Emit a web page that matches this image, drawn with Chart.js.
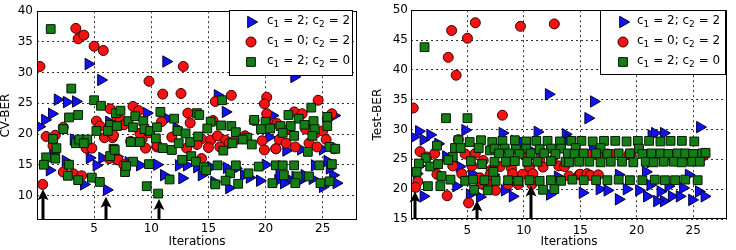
<!DOCTYPE html>
<html><head><meta charset="utf-8">
<script src="https://cdn.jsdelivr.net/npm/chart.js@4/dist/chart.umd.min.js"></script>
<style>
html,body{margin:0;padding:0;background:#fff;width:736px;height:250px;overflow:hidden}
.c{position:absolute;top:0;width:368px;height:250px}
</style></head><body>
<div class="c" style="left:0"><canvas id="a" width="368" height="250"></canvas></div>
<div class="c" style="left:368px"><canvas id="b" width="368" height="250"></canvas></div>
<script>
// ---------- data ----------
const xTicks = [5, 10, 15, 20, 25];
const cvTicks = [10, 15, 20, 25, 30, 35, 40];
const testTicks = [15, 20, 25, 30, 35, 40, 45, 50];
const legendC1 = [2, 0, 2];
const legendC2 = [2, 2, 0];
const xTitle = 'Iterations';
const cvTitle = 'CV-BER';
const testTitle = 'Test-BER';

// CV-BER, c1=2;c2=2 (blue triangles)
const cvTri = [[4.5,31.4],[5.6,28.8],[1.8,25.6],[2.6,25.2],[3.4,25.3],[1.3,23.3],[0.7,22.3],[0.2,21.2],[3.2,19.1],[2.5,15.6],[1.1,14.1],[4.6,16.1],[5.7,16.1],[5.2,14.9],[4.1,11.8],[6.1,10.9],[6.3,22.0],[1.4,16.8],
[11.3,31.8],[9.6,23.4],[12.2,21.0],[11.4,22.5],[8.0,15.4],[9.0,14.9],[10.5,15.0],[11.1,13.3],[12.7,12.8],[12.4,14.9],[13.1,14.9],[7.0,16.3],
[15.8,26.3],[16.5,23.6],[20.3,19.5],[20.6,23.0],[14.0,14.6],[15.2,14.6],[16.6,14.5],[17.4,14.4],[18.1,13.3],[18.6,12.9],[19.5,12.4],[20.0,15.0],[21.1,12.5],[15.5,12.2],[16.8,11.2],[14.4,13.3],
[22.5,29.3],[26.0,23.0],[23.1,17.5],[21.8,17.3],[25.0,17.5],[25.4,15.6],[25.9,13.3],[21.2,13.3],[22.0,12.7],[22.6,13.0],[23.0,12.4],[23.4,13.3],[24.1,12.7],[26.2,12.0],[25.0,11.4],[21.6,12.0],[24.3,14.9],[25.6,14.4]];
// CV-BER, c1=0;c2=2 (red circles)
const cvCirc = [[0.26,31.0],[3.4,37.2],[3.6,35.5],[4.1,36.1],[5.0,34.3],[5.8,33.6],[0.5,11.8],[0.8,19.6],[1.6,19.8],[1.4,18.1],[2.3,21.1],[2.3,13.8],[3.2,13.5],[3.9,13.2],[6.4,24.1],[5.2,22.1],[5.5,21.3],[5.9,19.4],[6.6,19.4],[6.7,19.8],[6.3,16.0],[7.0,15.8],[4.3,17.7],[4.8,17.7],[7.0,22.5],
[12.8,31.0],[9.8,28.6],[11.0,26.5],[12.6,26.6],[8.4,24.5],[8.9,23.8],[13.2,23.4],[10.9,22.0],[13.4,21.8],[7.3,22.3],[7.6,21.5],[8.2,18.8],[9.2,19.2],[9.0,20.1],[9.5,17.7],[10.5,17.9],[10.5,18.2],[11.8,19.5],[13.1,17.7],[14.1,19.2],[7.1,15.8],[7.6,15.0],[9.8,20.2],[14.4,16.0],
[17.0,26.3],[15.6,25.3],[20.1,26.0],[19.9,24.9],[20.1,23.3],[15.4,22.2],[19.0,22.2],[20.7,21.7],[14.4,19.2],[15.2,19.0],[15.8,19.7],[16.5,19.0],[17.3,19.0],[18.2,19.7],[15.0,17.8],[16.0,17.9],[16.8,18.5],[19.7,18.9],[19.9,17.4],[20.9,17.6],[14.0,18.3],
[24.6,25.5],[25.8,23.3],[22.5,23.6],[23.2,23.3],[25.4,22.5],[21.0,21.7],[22.0,20.8],[23.5,20.8],[24.4,20.2],[25.0,20.5],[21.2,19.1],[21.8,18.5],[22.6,17.9],[23.8,18.5],[24.5,17.9],[25.3,19.1],[26.0,17.6],[20.9,17.6]];
// CV-BER, c1=2;c2=0 (green squares)
const cvSq = [[1.2,37.1],[3.0,27.4],[5.0,25.5],[5.6,24.6],[3.6,23.1],[2.8,22.7],[2.3,20.8],[1.4,19.2],[1.7,17.7],[3.4,18.5],[3.7,19.1],[4.4,19.1],[4.1,18.5],[0.8,16.2],[1.6,16.0],[0.6,15.0],[2.8,15.0],[2.7,13.2],[3.6,12.5],[4.8,12.9],[5.5,12.2],[5.2,20.5],[6.4,21.5],[6.2,20.5],[7.0,21.3],[6.9,23.4],[6.7,17.6],[6.4,16.4],
[7.3,23.8],[8.0,22.1],[8.6,22.9],[9.3,22.1],[8.4,21.1],[9.4,20.8],[9.9,20.5],[10.5,21.1],[10.8,23.6],[12.0,22.5],[12.3,20.5],[13.0,20.1],[14.0,23.4],[8.2,18.7],[9.0,18.7],[10.4,19.3],[11.0,17.7],[11.8,17.4],[12.4,18.5],[13.4,18.7],[14.1,19.6],[6.8,17.4],[8.4,15.5],[9.8,15.1],[7.7,13.8],[7.8,14.8],[12.7,15.8],[13.5,16.4],[13.9,15.5],[11.6,12.6],[9.6,11.5],[10.6,10.3],
[16.2,25.5],[14.2,23.1],[15.2,22.0],[16.1,21.4],[17.0,21.3],[19.0,22.3],[20.0,22.0],[14.9,20.9],[17.4,20.3],[18.4,19.4],[19.6,20.8],[20.4,20.9],[16.3,17.3],[18.8,18.3],[18.0,19.1],[17.1,18.5],[14.6,14.6],[15.8,14.9],[16.9,13.6],[17.4,14.9],[18.5,13.6],[19.4,14.7],[15.6,11.8],[16.5,12.4],[17.6,11.9],[20.6,12.0],[20.9,14.9],[14.8,14.1],
[24.0,24.3],[22.0,23.1],[25.4,22.8],[22.9,22.5],[24.2,22.1],[21.3,21.3],[22.2,21.3],[23.4,21.5],[24.3,20.8],[25.4,21.3],[21.5,20.2],[22.5,19.7],[24.1,19.7],[23.7,17.1],[25.6,17.9],[26.1,17.6],[21.5,14.9],[22.5,14.9],[24.7,14.9],[25.8,15.1],[22.8,13.1],[23.8,13.1],[21.6,13.3],[24.8,12.0],[25.6,12.3],[22.6,12.0]];

// Test-BER, c1=2;c2=2 (blue triangles)
const testTri = [[0.7,29.7],[0.2,28.7],[1.1,28.3],[1.7,29.1],[4.8,29.9],[2.4,27.6],[3.1,25.5],[0.7,23.9],[4.3,23.8],[5.4,22.6],[4.0,20.5],[1.1,18.8],[5.2,19.1],[6.1,18.7],[0.5,22.6],
[12.2,35.9],[11.2,29.6],[8.1,29.4],[9.2,28.1],[9.9,27.8],[13.7,29.2],[14.0,28.4],[10.5,26.6],[11.4,26.6],[13.0,22.1],[8.3,19.8],[9.0,18.8],[12.3,19.1],[7.3,22.4],
[16.2,34.7],[15.7,31.9],[21.3,29.0],[16.1,26.7],[15.2,19.4],[16.7,20.0],[17.4,19.8],[18.4,18.3],[18.4,22.4],[19.1,20.0],[20.2,19.8],[20.9,18.8],[20.8,22.9],[21.2,24.5],
[25.6,30.4],[21.6,29.4],[22.4,29.4],[24.6,22.4],[21.2,20.7],[22.1,19.6],[22.4,18.0],[23.1,18.8],[23.8,18.8],[24.1,20.2],[24.9,18.2],[25.5,19.6],[26.0,18.8],[21.8,18.0],[22.8,20.5]];
// Test-BER, c1=0;c2=2 (red circles)
const testCirc = [[5.7,47.9],[3.6,46.6],[5.0,45.3],[3.3,42.1],[4.0,39.1],[0.2,33.6],[0.8,26.3],[0.6,21.3],[0.4,20.3],[1.4,25.4],[2.1,26.0],[2.3,22.5],[3.2,18.9],[3.7,23.9],[4.2,28.3],[4.8,25.9],[5.4,23.9],[5.7,26.0],[4.5,22.6],[5.1,17.7],[6.2,20.9],[6.1,21.9],[6.4,24.8],[7.1,21.0],[7.1,23.2],
[9.7,47.3],[12.7,47.7],[8.1,32.4],[7.5,23.9],[7.9,23.8],[8.9,23.5],[9.0,22.6],[9.9,22.5],[10.3,25.4],[11.4,24.8],[11.7,23.7],[10.5,23.7],[10.8,22.6],[13.1,23.9],[13.6,23.8],[12.5,24.8],[7.5,19.8],[8.6,20.8],[9.5,20.8],[10.7,20.8],[7.0,22.4],
[15.8,25.8],[16.4,25.8],[16.9,25.8],[17.4,25.9],[17.8,25.8],[19.3,25.8],[19.5,25.9],[20.7,25.8],[14.9,22.4],[15.0,22.5],[15.6,22.6],[15.9,22.3],[16.6,22.4],[14.0,22.2],
[21.6,25.7],[22.8,25.8],[23.3,25.7],[23.4,25.8],[24.5,25.8],[24.6,25.7],[26.0,25.7]];
// Test-BER, c1=2;c2=0 (green squares)
const testSq = [[1.2,43.8],[3.1,31.9],[5.0,31.9],[2.3,27.3],[3.7,25.4],[3.3,24.9],[1.3,25.2],[0.7,24.3],[1.7,23.8],[2.4,24.2],[0.5,22.9],[2.7,22.2],[3.5,21.6],[1.5,20.5],[2.6,20.5],[7.3,22.9],[6.3,24.2],
[4.2,28.2],[5.2,27.9],[6.2,28.2],[7.2,27.9],[8.1,28.1],[9.2,28.2],[10.2,28.0],[11.1,28.1],[12.1,28.1],[13.2,28.0],[14.2,28.1],[15.1,28.1],[16.1,28.0],[17.1,28.1],[18.1,28.1],[19.1,28.0],[20.1,28.1],[21.1,28.1],[22.1,28.0],[23.0,28.1],[24.0,28.1],[25.1,28.0],
[3.9,26.9],[4.4,26.9],[6.0,26.9],[7.0,26.5],[7.4,26.8],[8.3,26.8],[9.3,26.7],[10.2,26.8],[11.4,26.7],[12.4,26.8],[13.3,26.8],[14.6,26.9],[16.8,26.9],[20.2,26.8],
[7.8,26.0],[8.7,26.0],[9.6,25.9],[10.6,26.0],[11.8,26.0],[12.8,25.9],[13.9,26.0],[14.5,25.9],[15.3,26.0],[16.4,26.0],[17.4,25.9],[18.4,26.0],[19.4,26.0],[20.5,25.9],[21.3,26.0],[22.1,26.0],[22.8,25.9],[23.6,26.0],[24.3,26.0],[25.0,25.9],[25.8,26.0],[26.1,26.1],
[5.3,24.7],[7.4,24.6],[8.4,24.6],[9.2,24.7],[10.3,24.6],[11.2,24.6],[12.4,24.7],[13.7,24.6],[14.0,24.5],[14.9,24.6],[15.8,24.6],[16.8,24.5],[17.7,24.6],[18.7,24.6],[19.7,24.5],[20.8,24.6],[21.5,24.5],[22.4,24.6],[23.3,24.6],[24.0,24.5],[24.9,24.6],[25.6,24.6],
[4.8,21.4],[5.5,21.6],[6.5,21.5],[7.5,21.4],[8.6,21.5],[9.5,21.4],[10.5,21.5],[11.4,21.4],[12.4,21.5],[13.3,21.4],[14.3,21.6],[15.3,21.5],[16.4,21.5],[17.4,21.5],[18.4,21.6],[19.4,21.5],[20.5,21.5],[21.6,21.6],[22.5,21.5],[23.4,21.5],[24.3,21.6],[25.4,21.5],
[5.6,19.9],[6.8,19.8],[11.7,19.9],[12.7,20.0]];

// arrows marking selected iterations
const cvArrowX = [0.5, 6.0, 10.7];
const cvArrowTip = [11.0, 9.8, 9.4];
const testArrowX = [0.33, 5.85, 10.6];
const testArrowTip = [19.6, 18.1, 20.6];

// ---------- styling ----------
const FONT = 'DejaVu Sans';
const STY = {
  tri:  {pointStyle:'triangle', rotation:90, pointRadius:6.6, pointBackgroundColor:'#1212f0', pointBorderColor:'#00003a', pointBorderWidth:1},
  circ: {pointStyle:'circle',   rotation:0,  pointRadius:5,   pointBackgroundColor:'#f41212', pointBorderColor:'#400000', pointBorderWidth:1},
  sq:   {pointStyle:'rect',     rotation:0,  pointRadius:6.2, pointBackgroundColor:'#167c16', pointBorderColor:'#001a00', pointBorderWidth:1}
};
const legendStyles = [STY.tri, STY.circ, STY.sq];

function drawMarker(ctx, s, x, y) {
  ctx.save();
  ctx.fillStyle = s.pointBackgroundColor; ctx.strokeStyle = s.pointBorderColor; ctx.lineWidth = 1;
  ctx.beginPath();
  const r = s.pointRadius;
  if (s.pointStyle === 'circle') { ctx.arc(x, y, r, 0, Math.PI*2); }
  else if (s.pointStyle === 'rect') { const h = r*Math.SQRT1_2; ctx.rect(x-h, y-h, 2*h, 2*h); }
  else { ctx.moveTo(x + r, y); ctx.lineTo(x - r/2, y - r*0.866); ctx.lineTo(x - r/2, y + r*0.866); ctx.closePath(); }
  ctx.fill(); ctx.stroke();
  ctx.restore();
}

const overlay = {
  id: 'overlay',
  afterDatasetsDraw(chart, args, o) {
    const {ctx, chartArea: a, scales: {x, y}} = chart;
    ctx.save();
    // arrows
    ctx.fillStyle = '#000'; ctx.strokeStyle = '#000';
    o.arrowX.forEach((v, i) => {
      const px = Math.round(x.getPixelForValue(v)), py = y.getPixelForValue(o.arrowTip[i]);
      ctx.lineWidth = 3;
      ctx.beginPath(); ctx.moveTo(px, a.bottom); ctx.lineTo(px, py + 8); ctx.stroke();
      ctx.beginPath(); ctx.moveTo(px, py); ctx.lineTo(px - 5.5, py + 11); ctx.lineTo(px, py + 8.5); ctx.lineTo(px + 5.5, py + 11); ctx.closePath(); ctx.fill();
    });
    // frame
    ctx.lineWidth = 1; ctx.strokeStyle = '#000';
    ctx.strokeRect(Math.round(a.left) + 0.5, Math.round(a.top) + 0.5, Math.round(a.right - a.left) - 1, Math.round(a.bottom - a.top) - 1);
    // legend
    const L = o.legend;
    ctx.fillStyle = '#fff';
    ctx.fillRect(L.x, L.y, L.w, L.h);
    ctx.strokeRect(L.x + 0.5, L.y + 0.5, L.w, L.h);
    legendStyles.forEach((s, i) => {
      const ry = L.y + 12 + i * 20;
      drawMarker(ctx, s, L.x + L.mx, ry);
      let tx = L.x + L.tx;
      const parts = [['c', 0], ['1', 1], [' = ' + legendC1[i] + '; c', 0], ['2', 1], [' = ' + legendC2[i], 0]];
      ctx.fillStyle = '#000'; ctx.textBaseline = 'middle'; ctx.textAlign = 'left';
      parts.forEach(([t, sub]) => {
        ctx.font = (sub ? '9px ' : '12px ') + "'" + FONT + "'";
        ctx.fillText(t, tx, ry - 1 + (sub ? 4 : 0));
        tx += ctx.measureText(t).width;
      });
    });
    ctx.restore();
  }
};

function makeChart(id, sets, yMin, yMax, yTicks, yTitle, cfg) {
  const mk = (data, s) => Object.assign({data: data.map(p => ({x: p[0], y: p[1]})), showLine: false, pointHoverRadius: s.pointRadius}, s);
  return new Chart(document.getElementById(id), {
    type: 'scatter',
    data: {datasets: [mk(sets[2], STY.sq), mk(sets[1], STY.circ), mk(sets[0], STY.tri)]},
    options: {
      responsive: false, animation: false, events: [], devicePixelRatio: 1,
      layout: {padding: {left: 0, right: cfg.padRight, top: 5, bottom: 0}},
      plugins: {legend: {display: false}, tooltip: {enabled: false},
        overlay: {arrowX: cfg.arrowX, arrowTip: cfg.arrowTip, legend: cfg.legend}},
      scales: {
        x: {type: 'linear', min: 0, max: 28,
          afterBuildTicks: s => { s.ticks = xTicks.map(v => ({value: v})); },
          afterFit: s => { s.height = cfg.xH; },
          grid: {color: '#333', lineWidth: 1, drawTicks: false},
          border: {display: false, dash: [2, 3]},
          ticks: {padding: cfg.xPad, color: '#000', font: {family: FONT, size: 12}},
          title: {display: true, text: xTitle, color: '#000', font: {family: FONT, size: 12, lineHeight: 1}, padding: {top: 0, bottom: 2}}
        },
        y: {type: 'linear', min: yMin, max: yMax,
          afterBuildTicks: s => { s.ticks = yTicks.map(v => ({value: v})); },
          afterFit: s => { s.width = cfg.yW; },
          grid: {color: '#333', lineWidth: 1, drawTicks: false},
          border: {display: false, dash: [2, 3]},
          ticks: {padding: cfg.yPad, color: '#000', font: {family: FONT, size: 12}},
          title: {display: true, text: yTitle, color: '#000', font: {family: FONT, size: 12, lineHeight: 1}, padding: {top: cfg.yTitlePad, bottom: 0}}
        }
      }
    },
    plugins: [overlay]
  });
}

makeChart('a', [cvTri, cvCirc, cvSq], 6, 40, cvTicks, cvTitle,
  {padRight: 11, xH: 30, xPad: 2, yW: 37, yPad: 4, yTitlePad: 0, arrowX: cvArrowX, arrowTip: cvArrowTip,
   legend: {x: 229, y: 10, w: 123, h: 65, mx: 22, tx: 38}});
makeChart('b', [testTri, testCirc, testSq], 15, 50, testTicks, testTitle,
  {padRight: 9, xH: 31, xPad: 5, yW: 43, yPad: 3, yTitlePad: 4, arrowX: testArrowX, arrowTip: testArrowTip,
   legend: {x: 232, y: 10, w: 125, h: 64, mx: 23, tx: 37}});
</script>
</body></html>
